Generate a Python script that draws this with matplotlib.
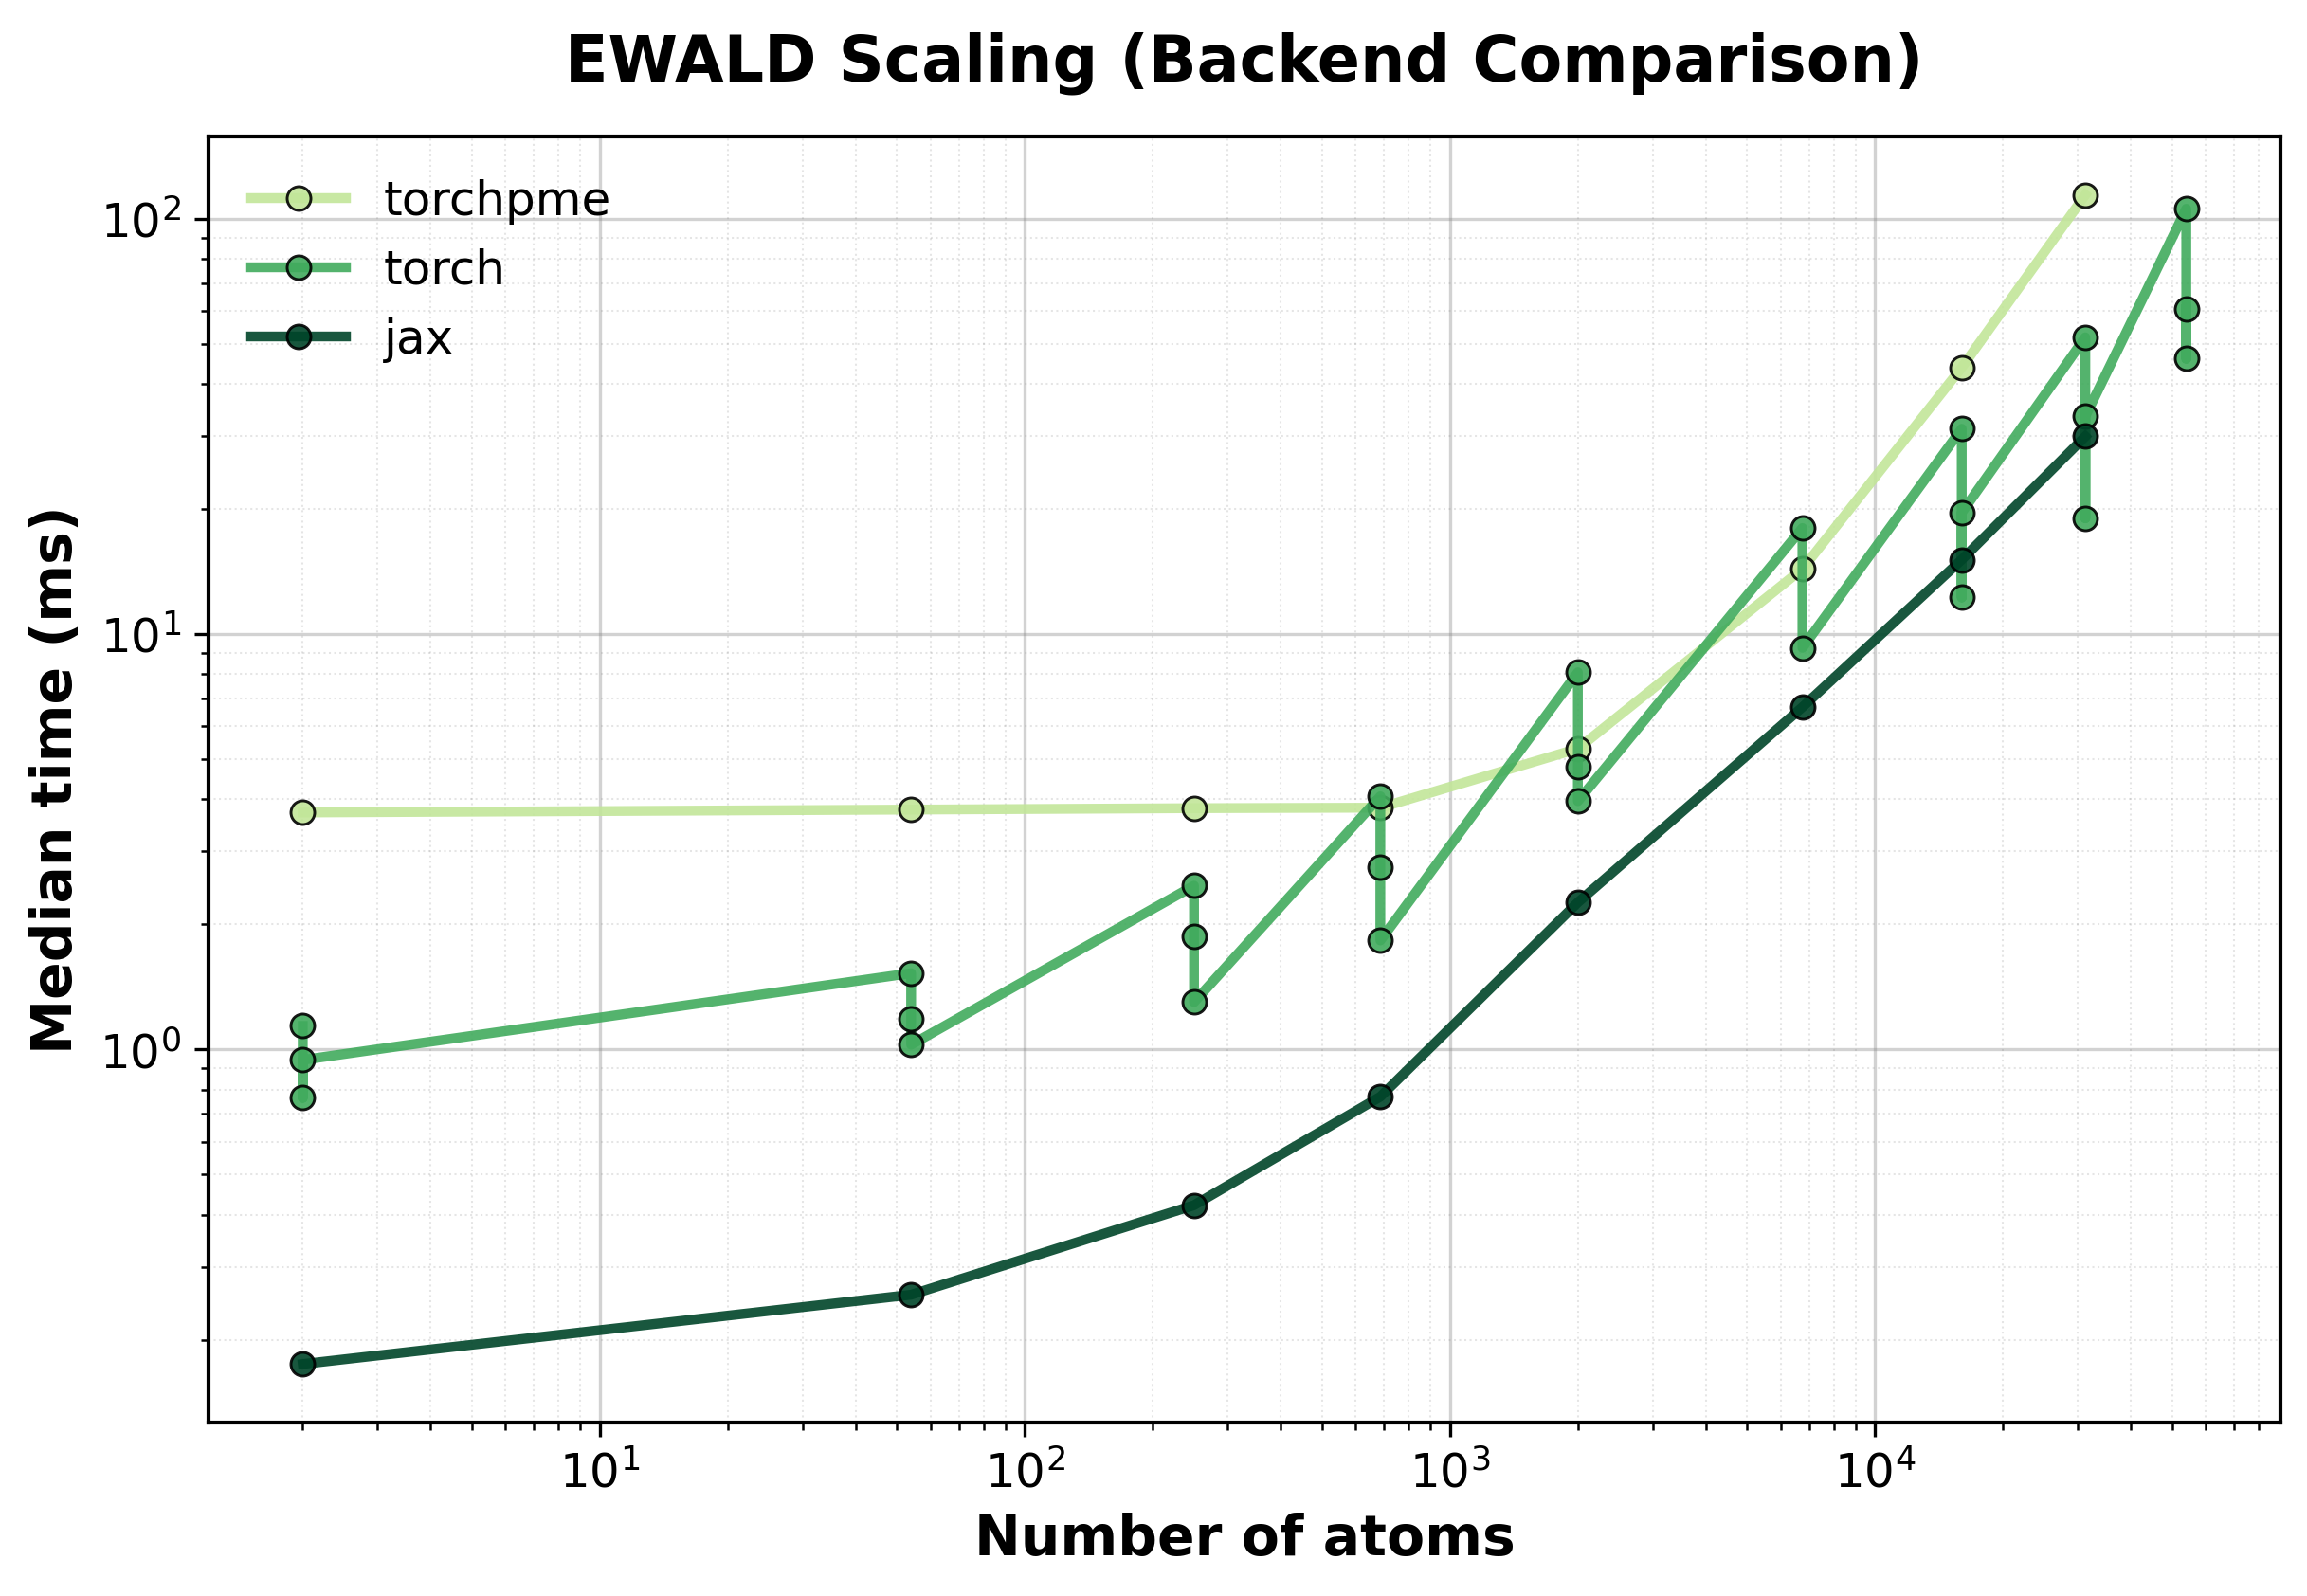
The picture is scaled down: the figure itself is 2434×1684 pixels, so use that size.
import numpy as np
import matplotlib
matplotlib.use('Agg')
import matplotlib.pyplot as plt

# benchmark medians (ms) read per system size
torchpme_atoms = [2, 54, 250, 686, 2000, 6750, 16000, 31250]
torchpme_ms = [3.72, 3.78, 3.81, 3.82, 5.3, 14.35, 43.8, 114]

torch_atoms = [2, 2, 2, 54, 54, 54, 250, 250, 250, 686, 686, 686,
               2000, 2000, 2000, 6750, 6750, 16000, 16000, 16000,
               31250, 31250, 31250, 54000, 54000, 54000]
torch_ms = [1.14, 0.765, 0.944, 1.527, 1.184, 1.027, 2.48, 1.876, 1.30,
            4.07, 2.75, 1.83, 8.09, 4.80, 3.96, 18.0, 9.26, 31.2, 12.25, 19.6,
            51.8, 19.0, 33.4, 105.6, 46.0, 60.5]

jax_atoms = [2, 54, 250, 686, 2000, 6750, 16000, 31250]
jax_ms = [0.175, 0.257, 0.422, 0.770, 2.26, 6.67, 15.1, 29.9]

backends = ['torchpme', 'torch', 'jax']
colors = {'torchpme': '#c2e699', 'torch': '#41ab5d', 'jax': '#004529'}
data = {'torchpme': (torchpme_atoms, torchpme_ms),
        'torch': (torch_atoms, torch_ms),
        'jax': (jax_atoms, jax_ms)}

fig = plt.figure(figsize=(2434/300, 1684/300), dpi=300)
ax = fig.add_axes([0.0904, 0.1087, 0.8981, 0.8058])

for name in backends:
    xs, ys = data[name]
    ax.plot(xs, ys, '-o', color=colors[name], lw=2.5, ms=6,
            mec='black', mew=0.7, alpha=0.9, label=name)

ax.set_xscale('log')
ax.set_yscale('log')
ax.grid(True, which='major', color='gray', alpha=0.35, lw=0.8)
ax.grid(True, which='minor', color='gray', ls=':', alpha=0.2, lw=0.5)
for s in ax.spines.values():
    s.set_linewidth(1.0)

ax.set_xlabel('Number of atoms', fontsize=14, fontweight='bold')
ax.set_ylabel('Median time (ms)', fontsize=14, fontweight='bold')
ax.set_title('EWALD Scaling (Backend Comparison)', fontsize=16,
             fontweight='bold', pad=14)
ax.tick_params(labelsize=12)
ax.legend(loc='upper left', frameon=False, fontsize=12)

fig.savefig('out.png', dpi=300)
